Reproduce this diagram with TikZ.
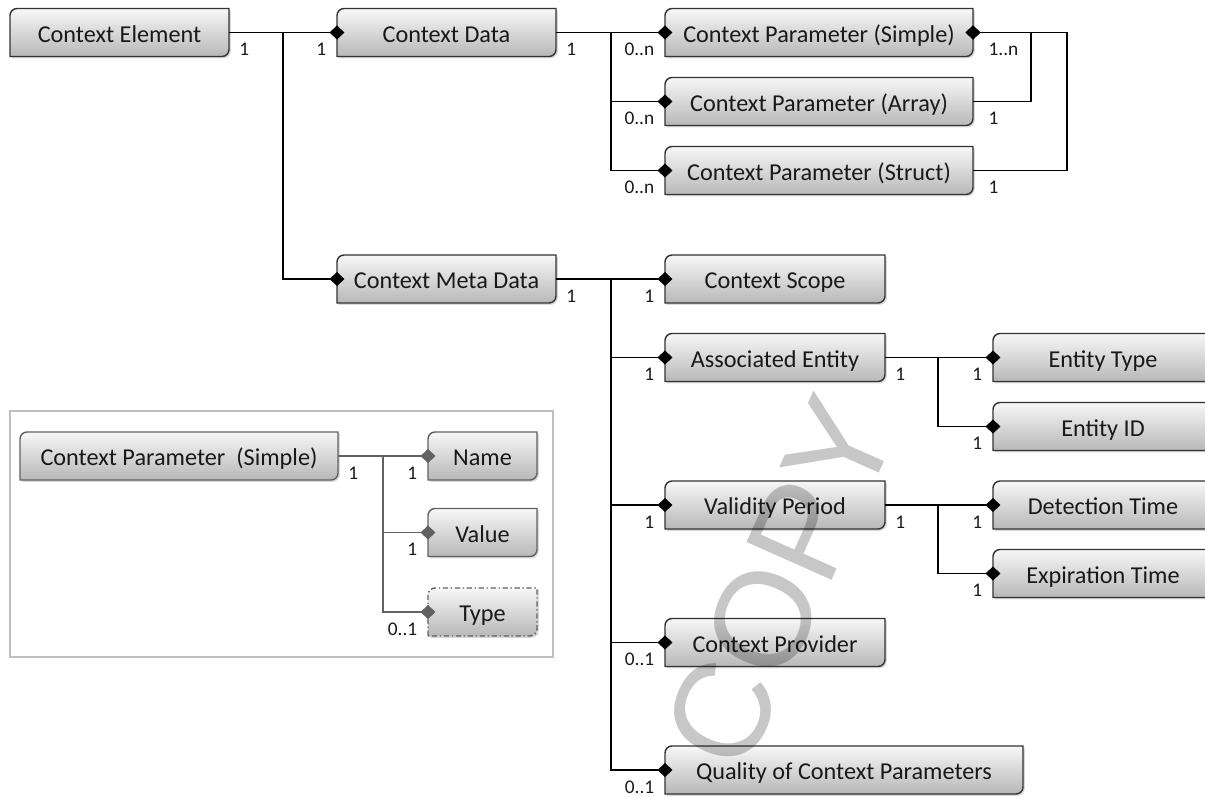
\documentclass[tikz,border=0pt]{standalone}
\usepackage{fontspec}
\setmainfont{Carlito}
\newfontfamily\markfont{Liberation Sans}
\usetikzlibrary{arrows.meta,shadows}

\tikzset{
  boxshape/.style={draw=black!80, line width=0.8pt, top color=black!3, bottom color=black!28,
    drop shadow={shadow xshift=1pt, shadow yshift=-1pt, opacity=0.3}},
  legbox/.style={draw=black!62},
  typebox/.style={dash pattern=on 3pt off 1.5pt on 0.8pt off 1.5pt},
  umlbox/.style={rectangle, minimum height=0.96cm, inner sep=0pt, outer sep=0pt,
    text height=13.1pt, text depth=2pt, font=\fontsize{13.8}{16}\selectfont, text=black!90},
  conn/.style={line width=0.8pt, -{Diamond[length=8.5pt,width=8pt]}, shorten >=-4.25pt},
  lconn/.style={conn, draw=black!62},
  mult/.style={font=\fontsize{11}{12}\selectfont, inner sep=1.5pt, text height=7pt, text depth=0pt, text=black!90},
  src/.style={mult, anchor=north west, xshift=4pt, yshift=-4.4pt},
  dst/.style={mult, anchor=north east, xshift=-4.2pt, yshift=-4.4pt}
}

% box with rounded top left and bottom right corners: [style] name, x, y, width, text
\newcommand{\UmlBox}[6][]{
  \path[boxshape, #1] ({#3-#5/2}, {#4-24}) -- ({#3-#5/2}, {#4+24-7}) arc[start angle=180, end angle=90, radius=7]
    -- ({#3+#5/2}, {#4+24}) -- ({#3+#5/2}, {#4-24+7}) arc[start angle=0, end angle=-90, radius=7] -- cycle;
  \node (#2) at (#3, #4) [umlbox, minimum width=#5*0.02cm] {#6};
}

\begin{document}
\begin{tikzpicture}[x=0.02cm, y=0.02cm]

\path[use as bounding box] (0,0) rectangle (1205,-798);
\clip (0,0) rectangle (1205,-798);

\node (legend) at (281.5,-534) [rectangle, draw=black!25, line width=0.8pt, minimum width=543*0.02cm, minimum height=246*0.02cm] {};

\UmlBox{elem}{119.5}{-32.5}{219}{Context Element}
\UmlBox{cdata}{446.5}{-32.5}{219}{Context Data}
\UmlBox{cpsimple}{819}{-32.5}{308}{Context Parameter (Simple)}
\UmlBox{cparray}{819}{-101.5}{308}{Context Parameter (Array)}
\UmlBox{cpstruct}{819}{-170.5}{308}{Context Parameter (Struct)}
\UmlBox{cmeta}{446.5}{-279}{219}{Context Meta Data}
\UmlBox{cscope}{775}{-279}{220}{Context Scope}
\UmlBox{assoc}{775}{-357.5}{220}{Associated Entity}
\UmlBox{etype}{1103}{-357.5}{220}{Entity Type}
\UmlBox{eid}{1103}{-426.5}{220}{Entity ID}
\UmlBox{valid}{775}{-505}{220}{Validity Period}
\UmlBox{detect}{1103}{-505}{220}{Detection Time}
\UmlBox{expir}{1103}{-573.5}{220}{Expiration Time}
\UmlBox{cprov}{775}{-642.5}{220}{Context Provider}
\UmlBox{quality}{844}{-770}{358}{Quality of Context Parameters}

\UmlBox[legbox]{lparam}{179}{-456}{318}{Context Parameter~ (Simple)}
\UmlBox[legbox]{lname}{482.5}{-456}{109}{Name}
\UmlBox[legbox]{lvalue}{482.5}{-532.5}{109}{Value}
\UmlBox[legbox, typebox]{ltype}{482.5}{-612}{109}{Type}

\coordinate (jElem) at (283,-32.5);
\coordinate (jData) at (611,-32.5);
\coordinate (jArr) at (1031,-32.5);
\coordinate (jStr) at (1067,-32.5);
\coordinate (jMeta) at (611,-279);
\coordinate (jAssoc) at (938,-357.5);
\coordinate (jValid) at (938,-505);
\coordinate (jLeg) at (383,-456);

\draw[conn] (elem.east) -- (cdata.west) node[pos=0, src] {1} node[pos=1, dst] {1};
\draw[conn] (jElem) |- (cmeta.west);

\draw[conn] (cdata.east) -- (cpsimple.west) node[pos=0, src] {1} node[pos=1, dst] {0..n};
\draw[conn] (jData) |- (cparray.west) node[pos=1, dst] {0..n};
\draw[conn] (jData) |- (cpstruct.west) node[pos=1, dst] {0..n};
\draw[conn] (cparray.east) -| (jArr) node[pos=0, src, xshift=3pt] {1} -- (cpsimple.east) node[pos=1, src, xshift=3pt] {1..n};
\draw[conn] (cpstruct.east) -| (jStr) node[pos=0, src, xshift=3pt] {1} -- (cpsimple.east);

\draw[conn] (cmeta.east) -- (cscope.west) node[pos=0, src] {1} node[pos=1, dst] {1};
\draw[conn] (jMeta) |- (assoc.west) node[pos=1, dst] {1};
\draw[conn] (jMeta) |- (valid.west) node[pos=1, dst] {1};
\draw[conn] (jMeta) |- (cprov.west) node[pos=1, dst] {0..1};
\draw[conn] (jMeta) |- (quality.west) node[pos=1, dst] {0..1};

\draw[conn] (assoc.east) -- (etype.west) node[pos=0, src] {1} node[pos=1, dst] {1};
\draw[conn] (jAssoc) |- (eid.west) node[pos=1, dst] {1};
\draw[conn] (valid.east) -- (detect.west) node[pos=0, src] {1} node[pos=1, dst] {1};
\draw[conn] (jValid) |- (expir.west) node[pos=1, dst] {1};

\draw[lconn] (lparam.east) -- (lname.west) node[pos=0, src] {1} node[pos=1, dst] {1};
\draw[lconn] (jLeg) |- (lvalue.west) node[pos=1, dst] {1};
\draw[lconn] (jLeg) |- (ltype.west) node[pos=1, dst] {0..1};

\node (mark) at (780,-582) [rotate=66, font=\markfont\fontsize{77}{80}\selectfont, text=black, text opacity=0.22] {COPY};

\end{tikzpicture}
\end{document}
